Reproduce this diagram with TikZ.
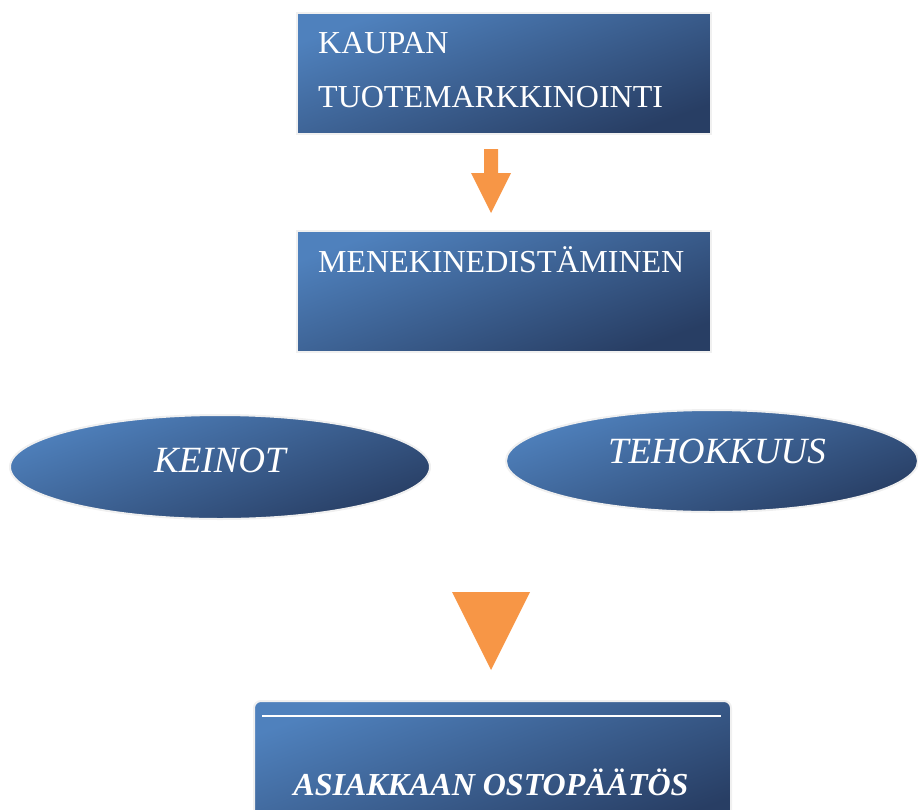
\documentclass[tikz,border=0pt]{standalone}
\usepackage{fontspec}
\setmainfont{Liberation Serif}
\usetikzlibrary{shapes.geometric}
\definecolor{blueL}{RGB}{79,129,189}
\definecolor{blueD}{RGB}{40,62,100}
\definecolor{rimgray}{RGB}{240,240,240}
\definecolor{orangeA}{RGB}{247,150,70}
\tikzset{
  bluefill/.style={top color=blueL, bottom color=blueD, shading angle=20, draw=rimgray, line width=2pt, inner sep=0pt, outer sep=0pt},
  bluebox/.style={bluefill, rectangle, anchor=north west},
  blueoval/.style={bluefill, ellipse},
  boxtext/.style={text=white, inner sep=0pt, font=\fontsize{32}{38}\selectfont},
  ovaltext/.style={text=white, inner sep=0pt, font=\fontsize{37}{44}\selectfont\itshape},
  orangearrow/.style={fill=orangeA, draw=none}
}
\begin{document}
\begin{tikzpicture}[x=1pt,y=-1pt]
\useasboundingbox (0,0) rectangle (918,809);
% boxes
\node[bluebox, minimum width=414pt, minimum height=121pt] (b1) at (297,13) {};
\node[bluebox, minimum width=414pt, minimum height=121pt] (b2) at (297,231) {};
\node[bluebox, rounded corners=7pt, minimum width=477pt, minimum height=130pt] (b3) at (254,701) {};
% ellipses
\node[blueoval, minimum width=420pt, minimum height=104pt] (e1) at (220,467) {};
\node[blueoval, minimum width=412pt, minimum height=102pt] (e2) at (712,461) {};
% texts
\node[boxtext, anchor=base west] (t1a) at (318,53) {KAUPAN};
\node[boxtext, anchor=base west] (t1b) at (318,107) {TUOTEMARKKINOINTI};
\node[boxtext, anchor=base west] (t2) at (318,272) {MENEKINEDIST\"AMINEN};
\node[ovaltext, anchor=base] (te1) at (220,472) {KEINOT};
\node[ovaltext, anchor=base] (te2) at (717,463) {TEHOKKUUS};
\node[boxtext, anchor=base, font=\fontsize{32}{38}\selectfont\bfseries\itshape] (t3) at (491,795) {ASIAKKAAN OSTOP\"A\"AT\"OS};
% white line in bottom box
\coordinate (wl1) at (262,716);
\coordinate (wl2) at (721,716);
\draw[white, line width=2.5pt] (wl1) -- (wl2);
% small block arrow between b1 and b2
\fill[orangearrow] (484,149) -- (498,149) -- (498,173) -- (511,173) -- (491,213) -- (471,173) -- (484,173) -- cycle;
% big triangle
\fill[orangearrow] (452,592) -- (530,592) -- (491,670) -- cycle;
\end{tikzpicture}
\end{document}
